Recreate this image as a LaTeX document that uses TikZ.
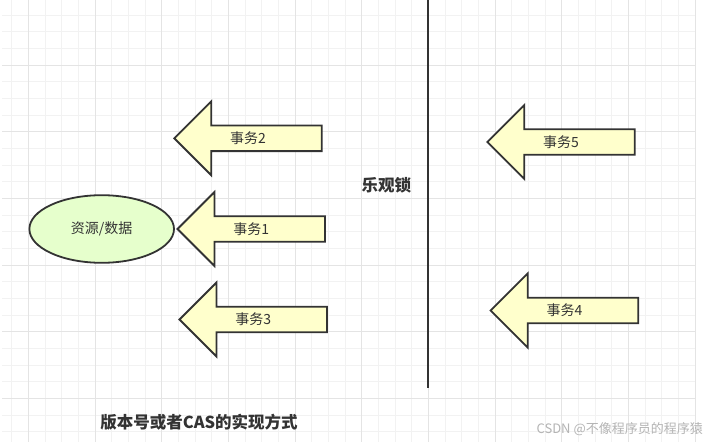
\documentclass[tikz,border=0pt]{standalone}
\usepackage{fontspec}
\setmainfont{Noto Sans CJK SC}
\usetikzlibrary{shapes.geometric}
\definecolor{gridminor}{HTML}{F2F2F2}
\definecolor{gridmajor}{HTML}{E4E4E4}
\definecolor{ink}{HTML}{333333}
\definecolor{arrowfill}{HTML}{FFFFCC}
\definecolor{ellfill}{HTML}{E6FFCC}
\definecolor{wm}{HTML}{B4B4B4}
\tikzset{
  minorline/.style={gridminor, line width=0.8pt},
  majorline/.style={gridmajor, line width=0.9pt},
  arrowshape/.style={draw=ink, fill=arrowfill, line width=1.8pt},
  lbl/.style={text=ink, font=\fontsize{14}{16}\selectfont, inner sep=0pt},
  title/.style={text=ink, font=\bfseries\fontsize{16.5}{19}\selectfont, inner sep=0pt},
  resource/.style={ellipse, draw=ink, fill=ellfill, line width=1.8pt, minimum width=144.6pt, minimum height=67.6pt, inner sep=0pt, text=ink, font=\fontsize{14}{16}\selectfont},
}
\newcommand\txarrow[4]{%
  \draw[arrowshape] (#2,#3) -- ++(37,-37) -- ++(0,24.2) -- ++(110.5,0) -- ++(0,25.6) -- ++(-110.5,0) -- ++(0,24.2) -- cycle;
  \node[lbl] (#1) at ({#2+73.7},#3) {#4};
}
\begin{document}
\begin{tikzpicture}[x=1pt,y=-1pt]
\useasboundingbox (0,0) rectangle (716,442);
\fill[white] (0,0) rectangle (716,442);
% grid
\foreach \i in {0,...,41} \draw[minorline] ({11.667+16.667*\i},0) -- ({11.667+16.667*\i},442);
\foreach \j in {0,...,25} \draw[minorline] (2,{15+16.667*\j}) -- (696,{15+16.667*\j});
\foreach \i in {0,...,10} \draw[majorline] ({28.333+66.667*\i},0) -- ({28.333+66.667*\i},442);
\foreach \j in {0,...,5} \draw[majorline] (2,{65+66.667*\j}) -- (696,{65+66.667*\j});
% divider
\coordinate (divtop) at (428,0);
\coordinate (divbot) at (428,388);
\draw[ink, line width=1.8pt] (divtop) -- (divbot);
% resource
\node[resource] (res) at (101.7,229) {资源/数据};
% arrows
\txarrow{t2}{174.3}{138.3}{事务2}
\txarrow{t1}{177.5}{229}{事务1}
\txarrow{t3}{179.5}{319.5}{事务3}
\txarrow{t5}{487.3}{142}{事务5}
\txarrow{t4}{490.7}{310.5}{事务4}
% titles
\node[title] (opt) at (386.3,185) {乐观锁};
\node[title] (cas) at (199,422.7) {版本号或者CAS的实现方式};
\node[text=wm, font=\fontsize{13}{15}\selectfont, inner sep=0pt] (wmk) at (619.7,429) {CSDN @不像程序员的程序猿};
\end{tikzpicture}
\end{document}
